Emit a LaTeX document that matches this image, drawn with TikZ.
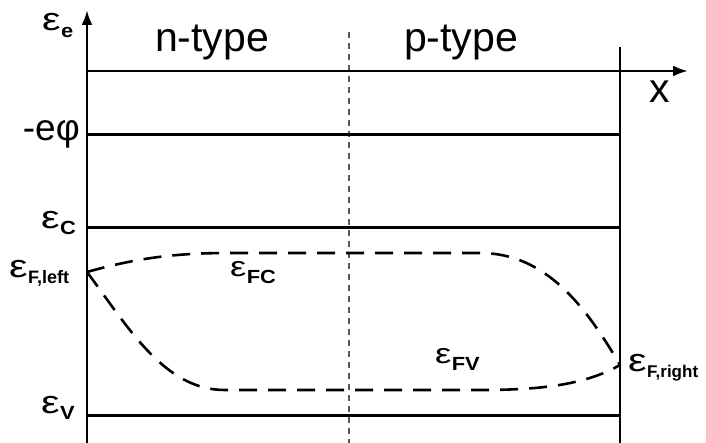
\documentclass[tikz,border=0pt]{standalone}
\usepackage{fontspec}
\setmainfont{Liberation Sans}
\newcommand\myeps{\scalebox{1.3}[1]{ε}}
\newcommand\mysub[1]{\scalebox{1.15}[1]{#1}}
\usetikzlibrary{arrows.meta}
\begin{document}
\begin{tikzpicture}[x=1pt,y=-1pt,
  level/.style={line width=3pt},
  axis/.style={line width=2.8pt,-{Latex[length=15pt,width=11pt]}},
  fermi/.style={line width=2.6pt,dash pattern=on 18pt off 11pt},
  big/.style={font=\fontsize{41}{41}\selectfont,inner sep=0pt},
  lab/.style={font=\fontsize{32}{32}\selectfont,inner sep=0pt},
  sub/.style={font=\fontsize{19}{19}\selectfont\bfseries,inner sep=0pt}]
\useasboundingbox (0,0) rectangle (706,443);
\fill[white] (0,0) rectangle (706,443);
% coordinates
\coordinate (ybot) at (87,443);
\coordinate (ytop) at (87,10);
\coordinate (xl) at (87,71);
\coordinate (xr) at (688,71);
\coordinate (rtop) at (620,47);
\coordinate (rbot) at (620,443);
\coordinate (mtop) at (349,32);
\coordinate (mbot) at (349,443);
\coordinate (phiL) at (87,135);
\coordinate (phiR) at (620,135);
\coordinate (cL) at (87,228);
\coordinate (cR) at (620,228);
\coordinate (vL) at (87,415);
\coordinate (vR) at (620,415);
\coordinate (FL) at (87,272);
\coordinate (FR) at (620,365);
% vertical lines
\draw[line width=1.4pt,gray!70!black,dash pattern=on 6pt off 5pt] (mtop) -- (mbot);
\draw[line width=1.8pt] (rtop) -- (rbot);
% levels
\draw[level] (phiL) -- (phiR);
\draw[level] (cL) -- (cR);
\draw[level] (vL) -- (vR);
% axes
\draw[axis] (ybot) -- (ytop);
\draw[axis] (xl) -- (xr);
% quasi Fermi levels
\draw[fermi] (FL) .. controls (140,257) and (180,253) .. (230,253) -- (480,253) .. controls (545,253) and (585,305) .. (FR);
\draw[fermi] (FL) .. controls (130,330) and (165,390) .. (225,390) -- (480,390) .. controls (540,390) and (585,385) .. (FR);
% labels
\node[big,anchor=base] (ntype) at (212,52) {n-type};
\node[big,anchor=base] (ptype) at (461,52) {p-type};
\node[big,anchor=base] (xlab) at (660,103) {x};
\node[lab,anchor=base east,font=\fontsize{37}{37}\selectfont] (phi) at (80,141) {-eφ};
\node[lab,anchor=base west] (ee) at (42,31) {\myeps};
\node[sub,anchor=base west] (ees) at (ee.base east) [yshift=-7pt] {\mysub{e}};
\node[lab,anchor=base west] (ec) at (41,229) {\myeps};
\node[sub,anchor=base west] (ecs) at (ec.base east) [yshift=-6pt] {\mysub{C}};
\node[lab,anchor=base west] (ev) at (41,413) {\myeps};
\node[sub,anchor=base west] (evs) at (ev.base east) [yshift=-6pt] {\mysub{V}};
\node[lab,anchor=base west] (efl) at (9,278) {\myeps};
\node[sub,anchor=base west,font=\fontsize{18}{18}\selectfont\bfseries] (efls) at (efl.base east) [yshift=-6pt] {F,left};
\node[lab,anchor=base west,font=\fontsize{28}{28}\selectfont] (efc) at (230,277) {\myeps};
\node[sub,anchor=base west] (efcs) at (efc.base east) [yshift=-7pt] {\mysub{FC}};
\node[lab,anchor=base west,font=\fontsize{28}{28}\selectfont] (efv) at (435,363) {\myeps};
\node[sub,anchor=base west] (efvs) at (efv.base east) [yshift=-7pt] {\mysub{FV}};
\node[lab,anchor=base west] (efr) at (628,371) {\myeps};
\node[sub,anchor=base west,font=\fontsize{17}{17}\selectfont\bfseries] (efrs) at (efr.base east) [yshift=-6pt] {F,right};
\end{tikzpicture}
\end{document}
